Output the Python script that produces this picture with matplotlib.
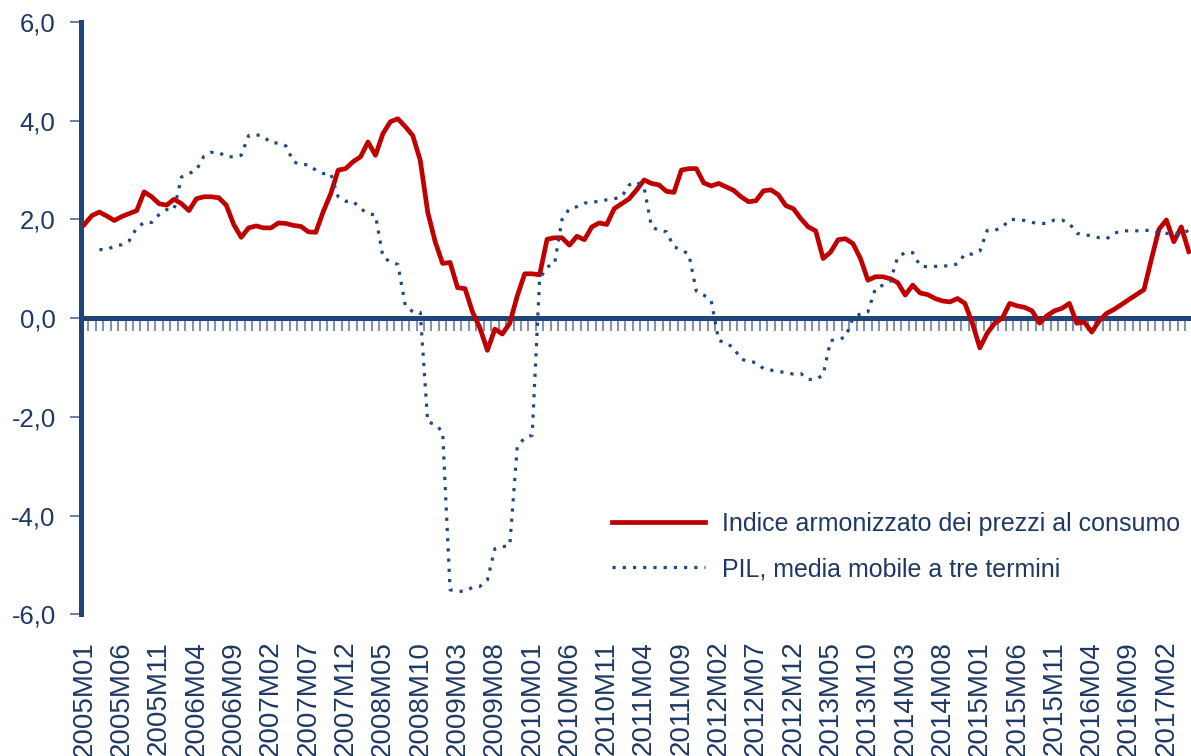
import numpy as np
import matplotlib
matplotlib.use("Agg")
import matplotlib.pyplot as plt
from matplotlib.lines import Line2D

plt.rcParams['font.family'] = ['Liberation Sans', 'DejaVu Sans']

# ---- data -------------------------------------------------------------
months = [f"{2005 + k // 12}M{k % 12 + 1:02d}" for k in range(149)]  # 2005M01 .. 2017M05

tick_labels = ["2005M01", "2005M06", "2005M11", "2006M04", "2006M09", "2007M02",
               "2007M07", "2007M12", "2008M05", "2008M10", "2009M03", "2009M08",
               "2010M01", "2010M06", "2010M11", "2011M04", "2011M09", "2012M02",
               "2012M07", "2012M12", "2013M05", "2013M10", "2014M03", "2014M08",
               "2015M01", "2015M06", "2015M11", "2016M04", "2016M09", "2017M02"]

hicp = [1.90, 2.08, 2.15, 2.07, 1.98, 2.06, 2.12, 2.18, 2.56, 2.46,
        2.32, 2.29, 2.41, 2.32, 2.18, 2.42, 2.46, 2.46, 2.44, 2.29,
        1.90, 1.64, 1.83, 1.87, 1.83, 1.83, 1.93, 1.92, 1.88, 1.86,
        1.75, 1.74, 2.16, 2.52, 3.00, 3.03, 3.17, 3.27, 3.57, 3.30,
        3.74, 3.98, 4.04, 3.88, 3.70, 3.20, 2.15, 1.55, 1.11, 1.13,
        0.62, 0.60, 0.13, -0.20, -0.65, -0.22, -0.32, -0.10, 0.45, 0.90,
        0.90, 0.88, 1.60, 1.63, 1.63, 1.48, 1.66, 1.59, 1.85, 1.93,
        1.90, 2.22, 2.32, 2.42, 2.60, 2.80, 2.73, 2.70, 2.57, 2.55,
        3.00, 3.03, 3.03, 2.74, 2.68, 2.73, 2.66, 2.59, 2.46, 2.36,
        2.38, 2.58, 2.60, 2.50, 2.28, 2.22, 2.02, 1.85, 1.77, 1.21,
        1.34, 1.59, 1.61, 1.51, 1.21, 0.77, 0.84, 0.84, 0.80, 0.72,
        0.47, 0.67, 0.51, 0.48, 0.40, 0.35, 0.33, 0.40, 0.30, -0.10,
        -0.60, -0.30, -0.10, 0.00, 0.30, 0.25, 0.22, 0.15, -0.10, 0.05,
        0.15, 0.20, 0.30, -0.10, -0.08, -0.28, -0.05, 0.10, 0.18, 0.28,
        0.38, 0.48, 0.58, 1.20, 1.80, 1.99, 1.55, 1.85, 1.35]

nan = float("nan")
pil = [nan, nan, 1.39, 1.39, 1.46, 1.49, 1.57, 1.83, 1.94, 1.94,
       2.10, 2.20, 2.20, 2.86, 2.93, 3.00, 3.28, 3.36, 3.36, 3.27,
       3.27, 3.30, 3.70, 3.72, 3.68, 3.55, 3.55, 3.49, 3.17, 3.11,
       3.11, 3.00, 2.93, 2.93, 2.46, 2.37, 2.37, 2.22, 2.12, 2.09,
       1.24, 1.14, 1.09, 0.26, 0.13, 0.12, -2.10, -2.15, -2.30, -5.50,
       -5.53, -5.53, -5.45, -5.43, -5.30, -4.67, -4.63, -4.60, -2.60, -2.42,
       -2.37, 0.80, 1.04, 1.10, 2.00, 2.22, 2.26, 2.33, 2.36, 2.36,
       2.40, 2.42, 2.46, 2.70, 2.76, 2.65, 1.85, 1.78, 1.75, 1.45,
       1.38, 1.30, 0.55, 0.47, 0.35, -0.45, -0.50, -0.60, -0.83, -0.87,
       -0.90, -1.02, -1.05, -1.08, -1.10, -1.13, -1.12, -1.24, -1.24, -1.15,
       -0.45, -0.43, -0.38, 0.00, 0.09, 0.13, 0.60, 0.67, 0.75, 1.24,
       1.33, 1.33, 1.06, 1.04, 1.05, 1.06, 1.06, 1.10, 1.30, 1.30,
       1.36, 1.78, 1.78, 1.84, 2.00, 2.00, 1.98, 1.94, 1.92, 1.92,
       1.99, 1.99, 1.92, 1.72, 1.69, 1.67, 1.63, 1.61, 1.72, 1.77,
       1.77, 1.77, 1.78, 1.78, 1.73, 1.72, 1.71, 1.71, 1.78]

series_names = ["Indice armonizzato dei prezzi al consumo",
                "PIL, media mobile a tre termini"]
y_ticks = [-6, -4, -2, 0, 2, 4, 6]

# ---- styling ----------------------------------------------------------
AXIS_BLUE = "#1f4678"
TEXT_BLUE = "#1f3864"
RED = "#c00000"
DOT_BLUE = "#1f4a82"
DOTS = (0, (1, 2.2))

fig = plt.figure(figsize=(11.91, 7.56), dpi=100)
ax = fig.add_axes([0.0678, 0.1872, 1 - 0.0678, 0.7837])

x = np.arange(len(months))
ax.plot(x, hicp, color=RED, lw=3.4, solid_joinstyle="round", zorder=4)
ax.plot(x, pil, color=DOT_BLUE, lw=2.3, linestyle=DOTS,
        dash_capstyle="butt", zorder=5)

ax.set_xlim(-0.5, 148.3)
ax.set_ylim(-6, 6)

# y axis
ax.spines["left"].set_linewidth(3.6)
ax.spines["left"].set_color(AXIS_BLUE)
for s in ("top", "right", "bottom"):
    ax.spines[s].set_visible(False)
ax.set_yticks(y_ticks)
ax.set_yticklabels([f"{v:.1f}".replace(".", ",") for v in y_ticks])
ax.tick_params(axis="y", direction="out", length=8, width=1.4,
               color="#6b7fa3", labelsize=18.5, labelcolor=TEXT_BLUE, pad=10)

# category labels at the bottom
ax.set_xticks(x[::5])
ax.set_xticklabels(tick_labels, rotation=90, va="top", ha="center")
ax.tick_params(axis="x", length=0, labelsize=20, labelcolor=TEXT_BLUE, pad=19)

# category axis crossing at zero
sec = ax.secondary_xaxis(0, transform=ax.transData)
sec.spines["bottom"].set_linewidth(3.6)
sec.spines["bottom"].set_color(AXIS_BLUE)
sec.spines["top"].set_visible(False)
sec.set_xticks(np.arange(-0.5, len(months), 1.0))
sec.tick_params(axis="x", direction="out", length=9.5, width=1.5,
                color="#8293b4", labelbottom=False, labeltop=False)

# legend
handles = [Line2D([], [], color=RED, lw=3.4),
           Line2D([], [], color=DOT_BLUE, lw=2.3, linestyle=DOTS,
                  dash_capstyle="butt")]
fig.legend(handles, series_names, loc="upper left",
           bbox_to_anchor=(0.5139, 0.323), bbox_transform=fig.transFigure,
           frameon=False, fontsize=18, labelcolor=TEXT_BLUE,
           handlelength=3.7, handletextpad=0.68, labelspacing=0.85,
           borderpad=0, borderaxespad=0)

fig.savefig("out.png", dpi=100)
